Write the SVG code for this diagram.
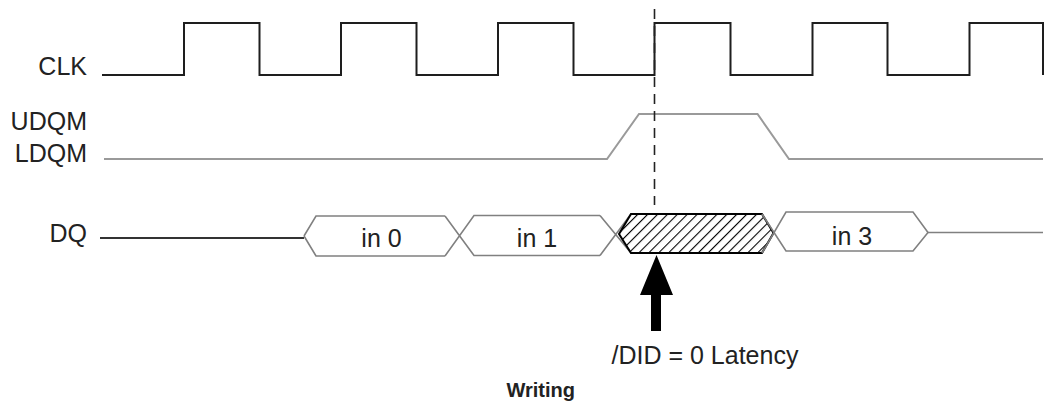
<svg xmlns="http://www.w3.org/2000/svg" width="1045" height="408" viewBox="0 0 1045 408">
<style>
.lbl{font-family:"Liberation Sans",Arial,sans-serif;font-size:25px;fill:#222}
.end{text-anchor:end}
.mid{text-anchor:middle}
.clk{fill:none;stroke:#1e1e1e;stroke-width:2}
.dqm{fill:none;stroke:#9a9a9a;stroke-width:2}
.bus{fill:none;stroke:#808080;stroke-width:1.6}
.dark{fill:none;stroke:#333;stroke-width:1.8}
</style>
<defs>
<pattern id="hatch" patternUnits="userSpaceOnUse" width="7" height="7" patternTransform="rotate(45)">
<line x1="0" y1="-1" x2="0" y2="8" stroke="#000" stroke-width="2.2"/>
</pattern>
</defs>
<rect width="1045" height="408" fill="#fff"/>
<g id="label-clk"><text class="lbl end" x="87" y="75">CLK</text></g>
<g id="label-dqm"><text class="lbl end" x="87" y="130">UDQM</text><text class="lbl end" x="87" y="162">LDQM</text></g>
<g id="label-dq"><text class="lbl end" x="87" y="242">DQ</text></g>
<g id="clk"><path class="clk" d="M102,75 H184 V23 H259.5 V75 H341 V23 H416.5 V75 H498 V23 H573.5 V75 H654.5 V23 H730.5 V75 H812.5 V23 H887.5 V75 H969.5 V23 H1043 V75"/></g>
<g id="dqm"><path class="dqm" d="M104,159 H607 L639,114 H757.5 L789,159 H1043"/></g>
<g id="dq-idle-left"><path class="dark" d="M100,238 H304"/></g>
<g id="in0"><path class="bus" d="M304,236 L316,216 H445 M304,236 L316,256 H445"/><text class="lbl mid" x="381.5" y="246.5">in 0</text></g>
<g id="in1"><path class="bus" d="M445,216 L474,255.5 H600 M445,256 L474,215.5 H600"/><text class="lbl mid" x="537" y="246.5">in 1</text></g>
<g id="masked"><path class="bus" d="M600,215.5 L631,253 M600,255.5 L631,214"/><polygon points="619,234 631,214 762,214 773.5,233 762,253 631,253" fill="url(#hatch)" stroke="#000" stroke-width="2"/></g>
<g id="in3"><path class="bus" d="M762,214 L786,251 H913 L928,232.5 L913,212 H786 L762,253"/><text class="lbl mid" x="852" y="245">in 3</text></g>
<g id="dq-idle-right"><path class="bus" d="M928,232.5 H1043"/></g>
<g id="connectors">
<line x1="654.5" y1="9" x2="654.5" y2="205" stroke="#222" stroke-width="1.6" stroke-dasharray="10 7"/>
<polygon points="656.5,255 673,295 661,295 661,331 651,331 651,295 640,295" fill="#000"/>
</g>
<g id="label-latency"><text class="lbl" x="611.5" y="363.5">/DID = 0 Latency</text></g>
<g id="title"><text x="575" y="397" style="font-family:'Liberation Sans',Arial,sans-serif;font-size:20px;font-weight:bold;fill:#222;text-anchor:end">Writing</text></g>
</svg>
